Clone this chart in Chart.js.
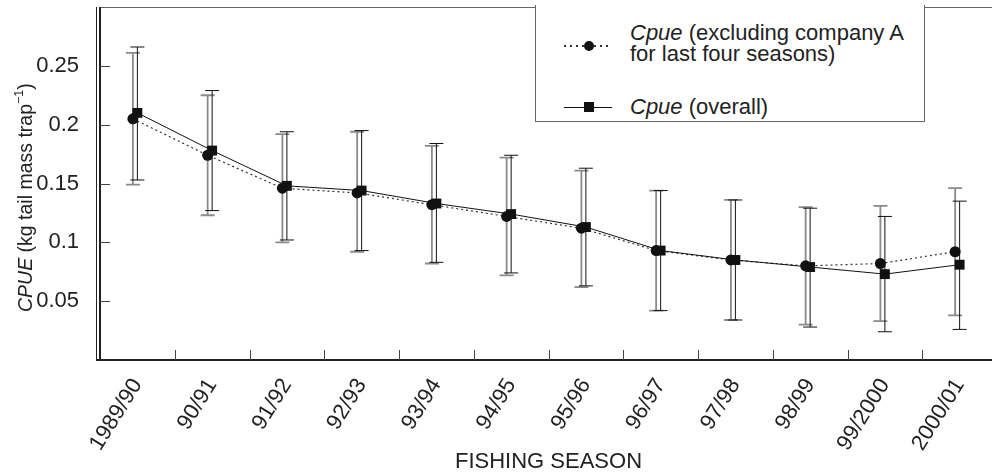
<!DOCTYPE html>
<html>
<head>
<meta charset="utf-8">
<script src="https://cdn.jsdelivr.net/npm/chart.js@4.4.1/dist/chart.umd.min.js"></script>
<style>
  html, body { margin: 0; padding: 0; background: #fff; overflow: hidden; }
  #wrap { position: relative; width: 1004px; height: 475px; }
  #legend {
    position: absolute; left: 535px; top: 5px; width: 390px; height: 117px;
    box-sizing: border-box; border: 1px solid #666; border-top: none; background: #fff;
    font-family: "Liberation Sans", Arial, sans-serif; font-size: 22px; color: #222;
  }
  #legend .txt { position: absolute; left: 94px; line-height: 21px; white-space: nowrap; }
  #legend .dots {
    position: absolute; left: 28px; width: 48px; height: 1.5px;
    background: repeating-linear-gradient(to right, #333 0 2px, transparent 2px 6px);
  }
  #legend .solid { position: absolute; left: 28px; width: 48px; height: 1px; background: #111; }
  #legend .dot { position: absolute; left: 48px; width: 10px; height: 10px; border-radius: 50%; background: #111; }
  #legend .sq { position: absolute; left: 48px; width: 10px; height: 10px; background: #111; }
</style>
</head>
<body>
<div id="wrap">
  <canvas id="chart" width="1004" height="475"></canvas>
  <div id="legend">
    <div class="dots" style="top:40px"></div><div class="dot" style="top:36px"></div>
    <div class="txt" style="top:17px"><i>Cpue</i> (excluding company A<br>for last four seasons)</div>
    <div class="solid" style="top:102px"></div><div class="sq" style="top:97px"></div>
    <div class="txt" style="top:91px"><i>Cpue</i> (overall)</div>
  </div>
</div>
<script>
/* CPUE by fishing season, two series with error bars */

const SEASONS = ['1989/90', '90/91', '91/92', '92/93', '93/94', '94/95', '95/96', '96/97', '97/98', '98/99', '99/2000', '2000/01'];

// Cpue excluding company A for the last four seasons (circles)
const CPUE_EXCL = [0.205, 0.174, 0.146, 0.142, 0.132, 0.122, 0.112, 0.093, 0.085, 0.080, 0.082, 0.092];
const EXCL_LO   = [0.149, 0.123, 0.100, 0.092, 0.082, 0.072, 0.062, 0.042, 0.034, 0.030, 0.033, 0.038];
const EXCL_HI   = [0.261, 0.225, 0.192, 0.194, 0.182, 0.172, 0.161, 0.144, 0.136, 0.130, 0.131, 0.146];

// Cpue overall (squares)
const CPUE_ALL = [0.210, 0.178, 0.148, 0.144, 0.133, 0.124, 0.113, 0.093, 0.085, 0.079, 0.073, 0.081];
const ALL_LO   = [0.153, 0.127, 0.102, 0.093, 0.083, 0.074, 0.063, 0.042, 0.034, 0.028, 0.024, 0.026];
const ALL_HI   = [0.266, 0.229, 0.194, 0.195, 0.184, 0.174, 0.163, 0.144, 0.136, 0.129, 0.122, 0.135];

const Y_TICKS = [0.05, 0.1, 0.15, 0.2, 0.25];

const FONT = '"Liberation Sans", Arial, sans-serif';
const EXCL_SHIFT = -0.06;   // circles sit a little left of the squares

const pts = (vals, shift) => vals.map((v, i) => ({ x: i + shift, y: v }));

const noPad = s => { s.paddingTop = 0; s.paddingBottom = 0; s.paddingLeft = 0; s.paddingRight = 0; };

// frame, double left axis line and inward tick marks
const frame = {
  id: 'frame',
  beforeDatasetsDraw(chart) {
    const { ctx, chartArea: a, scales: { x, y } } = chart;
    ctx.save();
    ctx.strokeStyle = '#666'; ctx.lineWidth = 1;
    ctx.strokeRect(a.left + 0.5, a.top + 0.5, a.right - a.left, a.bottom - a.top);
    ctx.strokeStyle = '#222'; ctx.lineWidth = 2;
    ctx.beginPath();
    ctx.moveTo(a.left - 4, a.bottom); ctx.lineTo(a.right, a.bottom);
    ctx.moveTo(a.left, a.top); ctx.lineTo(a.left, a.bottom);
    ctx.stroke();
    ctx.lineWidth = 1;
    ctx.beginPath();
    ctx.moveTo(a.left - 3.5, a.top); ctx.lineTo(a.left - 3.5, a.bottom);
    ctx.stroke();
    ctx.strokeStyle = '#444';
    ctx.beginPath();
    Y_TICKS.forEach(v => {
      const py = Math.round(y.getPixelForValue(v)) + 0.5;
      ctx.moveTo(a.left, py); ctx.lineTo(a.left + 10, py);
    });
    for (let i = 0; i < SEASONS.length - 1; i++) {
      const px = Math.round(x.getPixelForValue(i + 0.5)) + 0.5;
      ctx.moveTo(px, a.bottom); ctx.lineTo(px, a.bottom - 10);
    }
    ctx.stroke();
    ctx.restore();
  }
};

const errorBars = {
  id: 'errorBars',
  beforeDatasetsDraw(chart) {
    const { ctx, scales: { x, y } } = chart;
    const sets = [
      { lo: EXCL_LO, hi: EXCL_HI, shift: EXCL_SHIFT, color: '#8a8a8a', width: 1.8 },
      { lo: ALL_LO, hi: ALL_HI, shift: 0, color: '#111', width: 1 }
    ];
    ctx.save();
    sets.forEach(s => {
      ctx.strokeStyle = s.color;
      ctx.lineWidth = s.width;
      ctx.beginPath();
      s.lo.forEach((lo, i) => {
        const px = x.getPixelForValue(i + s.shift);
        const y0 = y.getPixelForValue(lo), y1 = y.getPixelForValue(s.hi[i]);
        ctx.moveTo(px, y0); ctx.lineTo(px, y1);
        ctx.moveTo(px - 7, y0); ctx.lineTo(px + 7, y0);
        ctx.moveTo(px - 7, y1); ctx.lineTo(px + 7, y1);
      });
      ctx.stroke();
    });
    ctx.restore();
  }
};

// y title with italic CPUE and superscript -1
const yTitle = {
  id: 'yTitle',
  afterDraw(chart) {
    const { ctx, chartArea: a } = chart;
    const parts = [
      { t: 'CPUE', f: 'italic 19.5px ' + FONT, dy: 0 },
      { t: ' (kg tail mass trap', f: '19.5px ' + FONT, dy: 0 },
      { t: '\u22121', f: '12.5px ' + FONT, dy: -7 },
      { t: ')', f: '19.5px ' + FONT, dy: 0 }
    ];
    ctx.save();
    let total = 0;
    parts.forEach(p => { ctx.font = p.f; p.w = ctx.measureText(p.t).width; total += p.w; });
    ctx.translate(27, a.top + (a.bottom - a.top) * 0.54);
    ctx.rotate(-Math.PI / 2);
    ctx.fillStyle = '#222';
    ctx.textBaseline = 'middle';
    let cx = -total / 2;
    parts.forEach(p => { ctx.font = p.f; ctx.fillText(p.t, cx, p.dy); cx += p.w; });
    ctx.restore();
  }
};

new Chart(document.getElementById('chart'), {
  type: 'line',
  data: {
    datasets: [
      {
        label: 'Cpue (overall)',
        data: pts(CPUE_ALL, 0),
        borderColor: '#111', borderWidth: 1, backgroundColor: '#111',
        pointStyle: 'rect', pointRadius: 7, pointBorderWidth: 0,
        order: 0
      },
      {
        label: 'Cpue (excluding company A for last four seasons)',
        data: pts(CPUE_EXCL, EXCL_SHIFT),
        borderColor: '#333', borderWidth: 1.2, borderDash: [2, 3], backgroundColor: '#111',
        pointStyle: 'circle', pointRadius: 5.5, pointBorderWidth: 0,
        order: 1
      }
    ]
  },
  options: {
    responsive: false, animation: false,
    layout: { padding: { top: 5, right: 3, left: 0, bottom: 0 } },
    plugins: { legend: { display: false }, tooltip: { enabled: false } },
    scales: {
      x: {
        type: 'linear', min: -0.5, max: 11.5,
        grid: { display: false }, border: { display: false },
        afterBuildTicks: s => { s.ticks = SEASONS.map((_, i) => ({ value: i })); },
        afterFit: s => { s.height = 115; noPad(s); },
        ticks: {
          callback: v => SEASONS[v], autoSkip: false,
          minRotation: 58, maxRotation: 58, padding: 6,
          color: '#222', font: { family: FONT, size: 22 }
        },
        title: { display: true, text: 'FISHING SEASON', color: '#222', font: { family: FONT, size: 22 }, padding: { top: 0, bottom: 0 } }
      },
      y: {
        min: 0, max: 0.3,
        grid: { display: false }, border: { display: false },
        afterBuildTicks: s => { s.ticks = Y_TICKS.map(v => ({ value: v })); },
        afterFit: s => { s.width = 100; noPad(s); },
        ticks: { callback: v => String(+v.toFixed(2)), padding: 13, color: '#222', font: { family: FONT, size: 22 } }
      }
    }
  },
  plugins: [frame, errorBars, yTitle]
});
</script>
</body>
</html>
